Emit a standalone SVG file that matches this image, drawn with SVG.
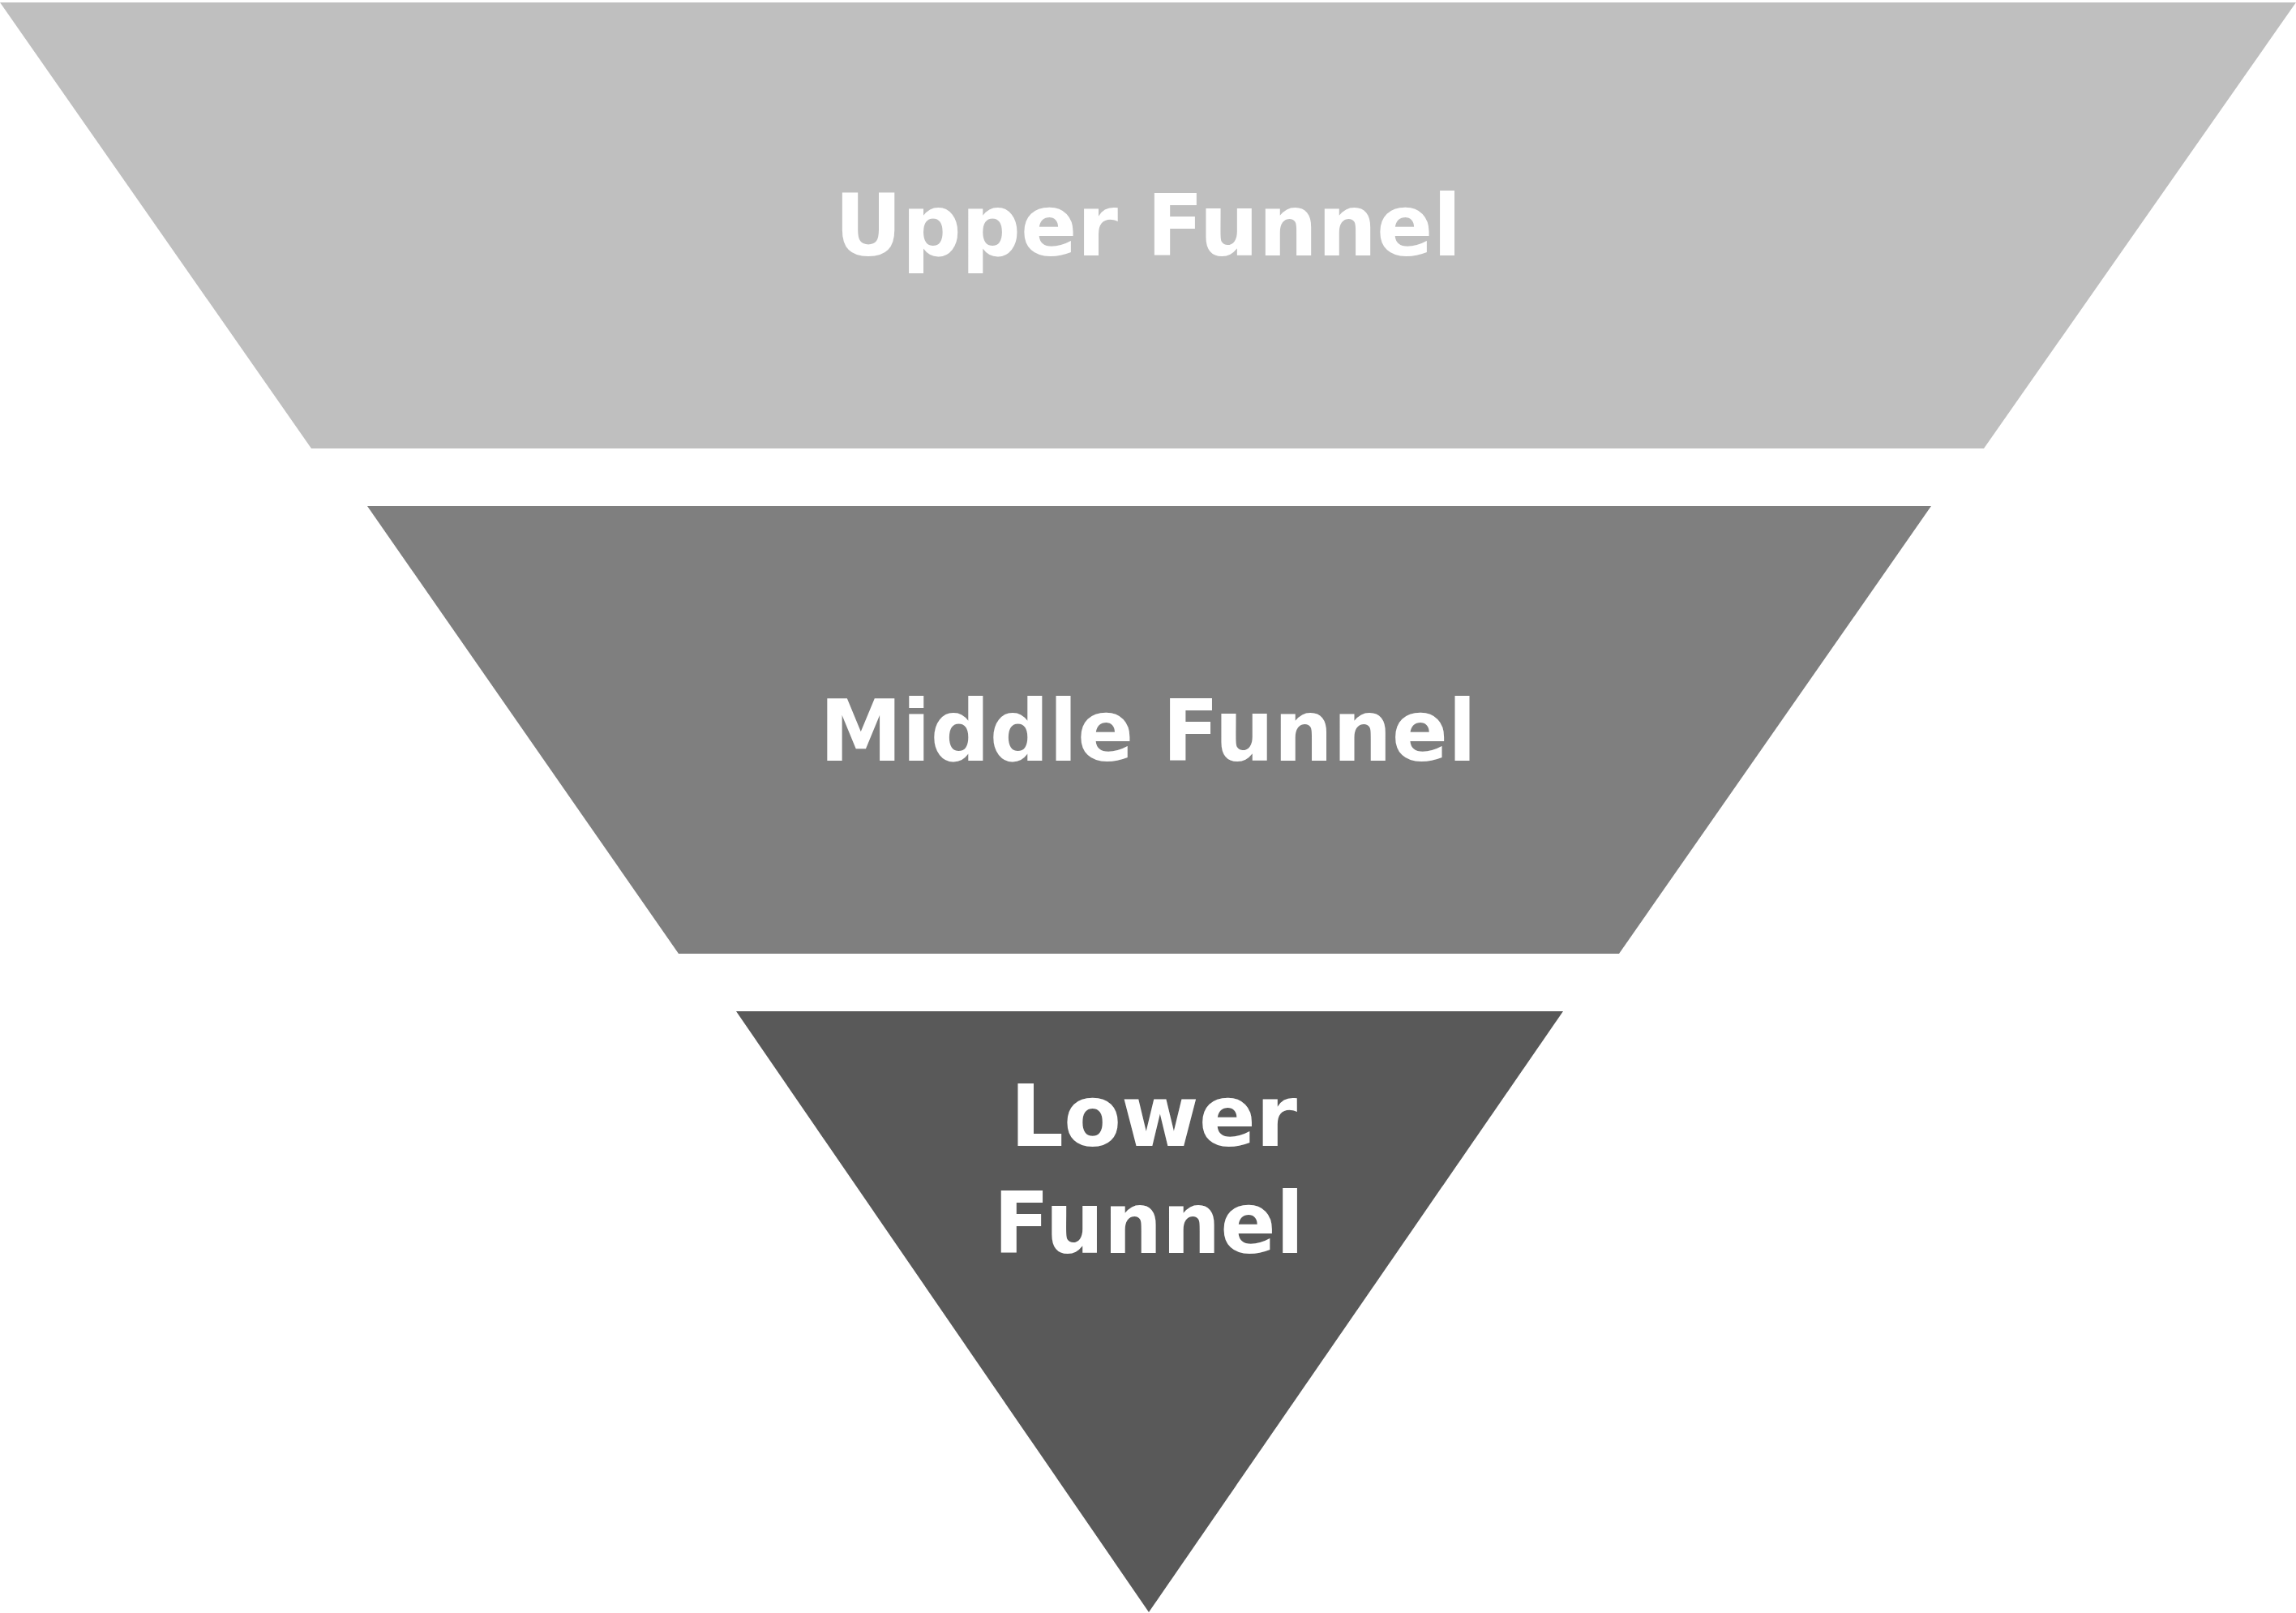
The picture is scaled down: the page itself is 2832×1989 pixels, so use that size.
<svg xmlns="http://www.w3.org/2000/svg" width="2832" height="1989" viewBox="0 0 2832 1989">
<style>
.lbl{font-family:"DejaVu Sans",Inter,"Liberation Sans",sans-serif;font-weight:700;font-size:106px;fill:#ffffff;text-anchor:middle}
</style>
<rect width="2832" height="1989" fill="#ffffff"/>
<g id="upper">
<polygon points="0,3 2832,3 2447,553 384,553" fill="#bfbfbf"/>
<text class="lbl" x="1416" y="315" textLength="773" lengthAdjust="spacingAndGlyphs">Upper Funnel</text>
</g>
<g id="middle">
<polygon points="453,624 2382,624 1997,1176 837,1176" fill="#7f7f7f"/>
<text class="lbl" x="1416" y="938" textLength="810" lengthAdjust="spacingAndGlyphs">Middle Funnel</text>
</g>
<g id="lower">
<polygon points="908,1247 1928,1247 1417,1988" fill="#595959"/>
<text class="lbl" x="1423" y="1413" textLength="354" lengthAdjust="spacingAndGlyphs">Lower</text>
<text class="lbl" x="1417" y="1545" textLength="383" lengthAdjust="spacingAndGlyphs">Funnel</text>
</g>
<g id="connectors"></g>
</svg>
